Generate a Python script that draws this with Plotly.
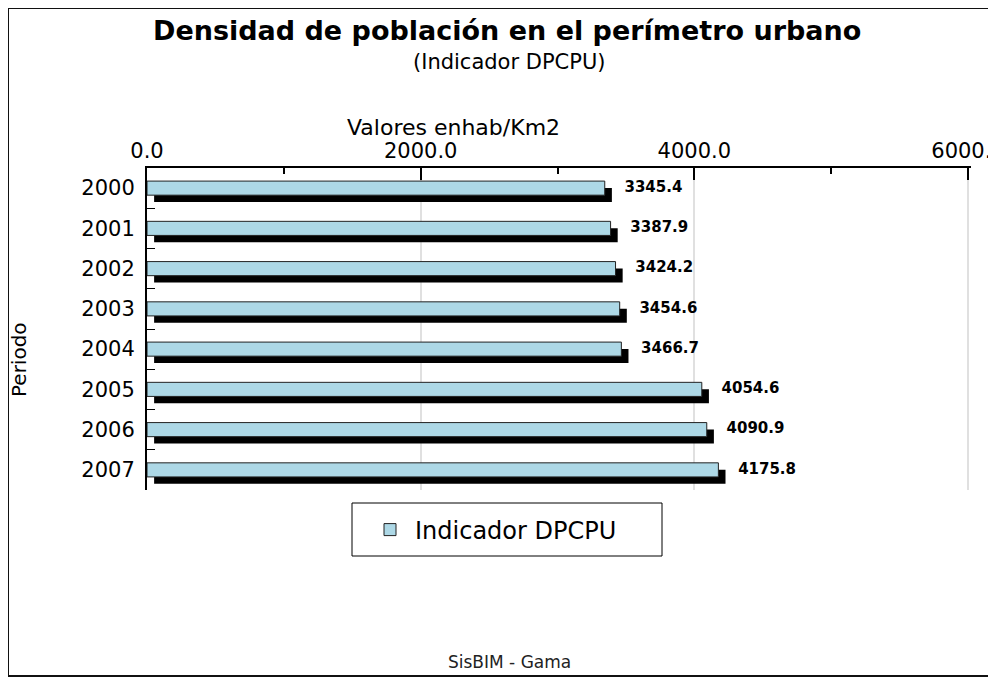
import plotly.graph_objects as go

# ---- data ----
periodos = ["2000", "2001", "2002", "2003", "2004", "2005", "2006", "2007"]
valores = [3345.4, 3387.9, 3424.2, 3454.6, 3466.7, 4054.6, 4090.9, 4175.8]
etiquetas = [f"{v:.1f}" for v in valores]
serie_nombre = "Indicador DPCPU"
x_tick_vals = [0, 2000, 4000, 6000]
x_tick_text = ["0.0", "2000.0", "4000.0", "6000.0"]

# page has an 8px body margin; figure fills the rest of the 996x679 window
OFF = 8
W, H = 996 - OFF, 679 - OFF
def px(x):
    return (x - OFF) / W
def py(y):
    return 1 - (y - OFF) / H

FONT = "DejaVu Sans"
FACE = "#ADD8E6"
BAR_W = 0.35
DEPTH_X = 52      # 3D depth in data units (~7 px)
DEPTH_Y = 0.17    # 3D depth in category units (~7 px)

fig = go.Figure()

# 3D side / shadow
fig.add_trace(go.Bar(
    y=periodos, x=valores, base=DEPTH_X, orientation="h",
    width=BAR_W, offset=-BAR_W / 2 + DEPTH_Y,
    marker=dict(color="black", line=dict(width=0)),
    showlegend=False, hoverinfo="skip",
))
# face
fig.add_trace(go.Bar(
    y=periodos, x=valores, orientation="h", name=serie_nombre,
    width=BAR_W, offset=-BAR_W / 2,
    marker=dict(color=FACE, line=dict(color="#222222", width=1)),
))
# value labels
fig.add_trace(go.Scatter(
    y=periodos, x=valores, mode="markers+text", text=etiquetas,
    textposition="middle right",
    marker=dict(size=30, opacity=0),
    textfont=dict(family=FONT, size=15, color="black", weight="bold"),
    showlegend=False, hoverinfo="skip",
))

annotations = [
    dict(x=px(507), y=py(30), xref="paper", yref="paper",
         text="<b>Densidad de población en el perímetro urbano</b>",
         showarrow=False, xanchor="center", yanchor="middle",
         font=dict(family=FONT, size=27, color="black")),
    dict(x=px(510), y=py(62), xref="paper", yref="paper",
         text="(Indicador DPCPU)", showarrow=False, xanchor="center", yanchor="middle",
         font=dict(family=FONT, size=21, color="black")),
    dict(x=px(453), y=py(127), xref="paper", yref="paper",
         text="Valores enhab/Km2", showarrow=False, xanchor="center", yanchor="middle",
         font=dict(family=FONT, size=22, color="black")),
    dict(x=px(19), y=py(360), xref="paper", yref="paper",
         text="Periodo", showarrow=False, textangle=-90, xanchor="center", yanchor="middle",
         font=dict(family=FONT, size=20, color="black")),
    dict(x=px(509), y=py(662), xref="paper", yref="paper",
         text="SisBIM - Gama", showarrow=False, xanchor="center", yanchor="middle",
         font=dict(family=FONT, size=17, color="#222222")),
]

X_END = 6000 * (971 - 147) / (968 - 147)   # keep 6000 at the right edge tick, grid visible

fig.update_layout(
    width=W, height=H,
    margin=dict(l=0, r=0, t=0, b=0, autoexpand=False),
    paper_bgcolor="white", plot_bgcolor="white",
    barmode="overlay",
    font=dict(family=FONT, color="black"),
    xaxis=dict(
        domain=[px(147), px(971)], range=[0, X_END], side="top",
        tickvals=x_tick_vals, ticktext=x_tick_text,
        ticks="inside", ticklen=12, tickcolor="black", tickwidth=2,
        minor=dict(dtick=1000, tick0=0, ticks="inside", ticklen=6, tickcolor="black",
                   tickwidth=2, showgrid=False),
        showgrid=True, gridcolor="#e0e0e0", gridwidth=2,
        showline=True, linecolor="black", linewidth=2,
        zeroline=False, tickfont=dict(family=FONT, size=21, color="black"),
        ticklabeloverflow="allow",
        automargin=False, fixedrange=True,
    ),
    yaxis=dict(
        domain=[py(490), py(168)], range=[7.5, -0.5], type="category",
        tickson="boundaries", ticks="inside", ticklen=8, tickcolor="black", tickwidth=1,
        showgrid=False, showline=True, linecolor="black", linewidth=2,
        zeroline=False, tickfont=dict(family=FONT, size=21, color="black"),
        ticklabelstandoff=6, automargin=False, fixedrange=True,
    ),
    legend=dict(
        orientation="h",
        x=px(365), y=py(530), xanchor="left", yanchor="middle",
        borderwidth=0, bgcolor="rgba(0,0,0,0)", itemwidth=40,
        font=dict(family=FONT, size=24, color="black"),
    ),
    annotations=annotations,
    shapes=[
        dict(type="rect", xref="paper", yref="paper",
             x0=px(352), x1=px(662), y0=py(556), y1=py(503),
             line=dict(color="black", width=1), layer="below"),
        dict(type="rect", xref="paper", yref="paper",
             x0=px(8), x1=px(995), y0=py(676), y1=py(8),
             line=dict(color="#111111", width=2), layer="above"),
    ],
)

fig.write_html("out.html")
